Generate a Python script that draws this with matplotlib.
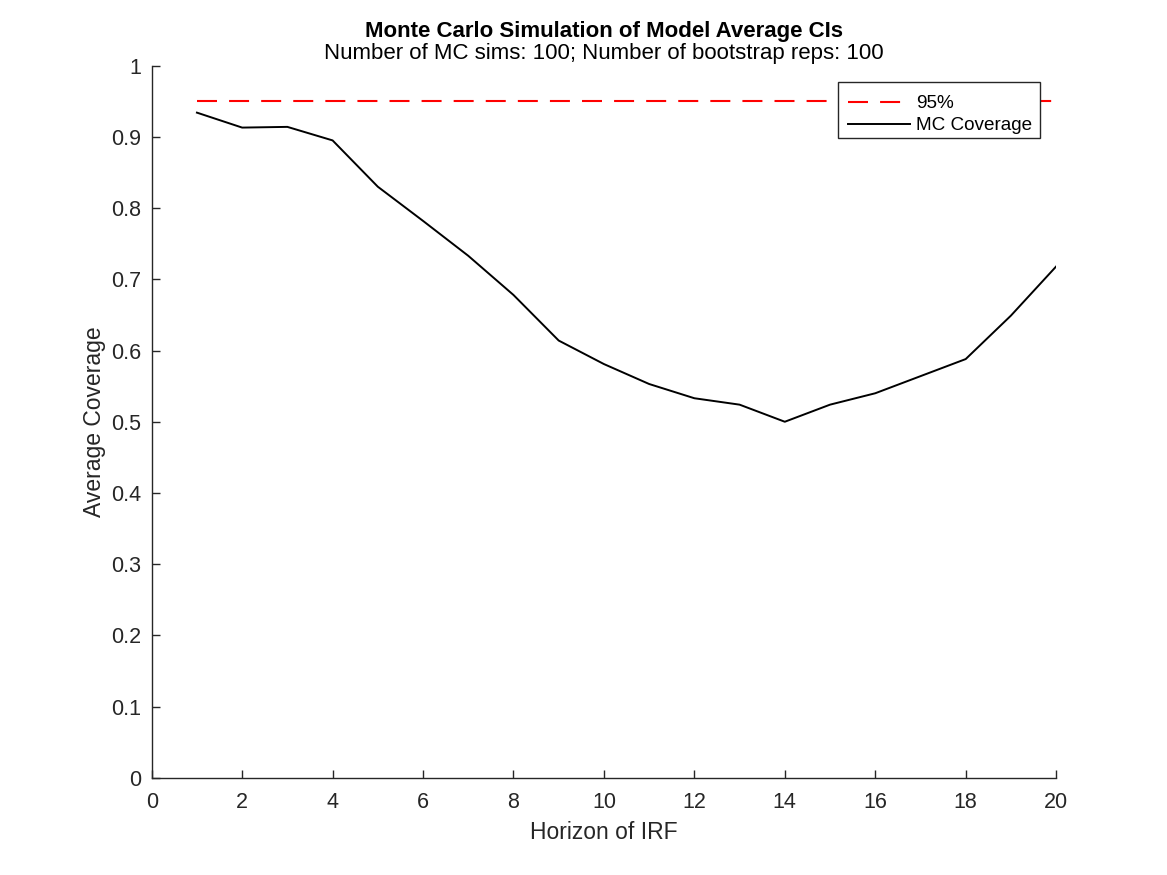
import matplotlib
matplotlib.use("Agg")
import matplotlib.pyplot as plt
from matplotlib.patches import Rectangle

horizons = list(range(1, 21))
coverage = [0.934, 0.913, 0.914, 0.895, 0.830, 0.782, 0.733, 0.678, 0.614, 0.581,
            0.553, 0.533, 0.524, 0.500, 0.524, 0.540, 0.564, 0.588, 0.649, 0.718]
target = [0.95] * len(horizons)

plt.rcParams['font.family'] = ['Liberation Sans', 'DejaVu Sans']
gray = '#262626'

fig = plt.figure(figsize=(11.67, 8.75), dpi=100)
ax = fig.add_axes([0.130, 0.111, 0.775, 0.814])

ax.plot(horizons, target, color='#ff0000', linestyle=(0, (9.6, 5.8)), linewidth=1.5, label='95%')
ax.plot(horizons, coverage, color='black', linewidth=1.4, label='MC Coverage')

ax.set_xlim(0, 20)
ax.set_ylim(0, 1)
ax.set_xticks(range(0, 21, 2))
ax.set_yticks([i / 10 for i in range(11)])
ax.set_yticklabels(['0'] + [f'{i/10:g}' for i in range(1, 10)] + ['1'])

for s in ['top', 'right']:
    ax.spines[s].set_visible(False)
for s in ['left', 'bottom']:
    ax.spines[s].set_color(gray)
    ax.spines[s].set_linewidth(1.0)
ax.tick_params(direction='in', length=6, width=1.0, colors=gray, labelsize=15.5)
ax.tick_params(axis='x', pad=10)
ax.tick_params(axis='y', pad=7.5)

ax.set_xlabel('Horizon of IRF', fontsize=16.5, color=gray, labelpad=6)
ax.set_ylabel('Average Coverage', fontsize=16.5, color=gray, labelpad=4)
fig.text(0.5175, 0.9645, 'Monte Carlo Simulation of Model Average CIs', ha='center', va='center',
         fontsize=16, fontweight='bold', color='black')
fig.text(0.5175, 0.9385, 'Number of MC sims: 100; Number of bootstrap reps: 100', ha='center', va='center',
         fontsize=16, color='black')

# legend frame drawn separately so the entries can sit as in the reference
frame = Rectangle((0.7181, 0.8423), 0.1731, 0.064, transform=fig.transFigure,
                  facecolor='white', edgecolor=gray, linewidth=1.0, zorder=4, clip_on=False)
ax.add_patch(frame)
leg = ax.legend(loc='upper right', bbox_to_anchor=(0.9834, 0.9705), fontsize=13.6, frameon=False,
                borderpad=0.45, handlelength=3.3, labelspacing=0.25, handletextpad=0.35,
                borderaxespad=0)
leg.set_zorder(5)

fig.savefig('out.png', dpi=100)
